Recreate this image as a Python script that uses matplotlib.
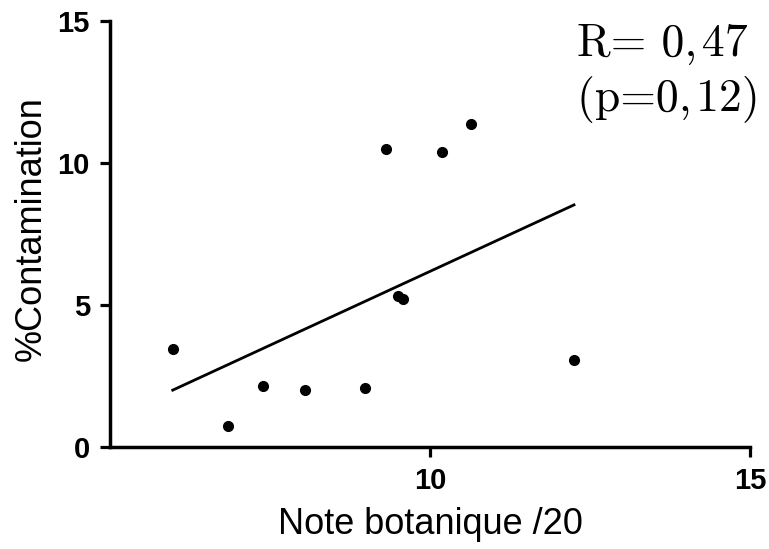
import numpy as np
import matplotlib
matplotlib.use("Agg")
import matplotlib.pyplot as plt

# Data
note_botanique = [5.98, 6.85, 7.39, 8.05, 8.98, 9.31, 9.50, 9.58, 10.18, 10.64, 12.25]
contamination = [3.44, 0.74, 2.16, 2.01, 2.09, 10.48, 5.32, 5.21, 10.40, 11.37, 3.06]
x_ticks = [10, 15]
y_ticks = [0, 5, 10, 15]
r_text = "R= 0,\u200a47"
p_text = "(p=0,\u200a12)"
xlabel = "Note botanique /20"
ylabel = "%Contamination"

plt.rcParams['font.family'] = ['Liberation Sans', 'DejaVu Sans']

W, H = 769, 549
fig = plt.figure(figsize=(W / 100, H / 100), dpi=100)
x0, x1, y0, y1 = 110, 750, 447, 21
ax = fig.add_axes([x0 / W, 1 - y0 / H, (x1 - x0) / W, (y0 - y1) / H])

ax.set_xlim(5, 15)
ax.set_ylim(0, 15)

xs = np.array(note_botanique)
ys = np.array(contamination)
ax.plot(xs, ys, 'o', color='black', markersize=7, clip_on=False, zorder=3)

slope, intercept = np.polyfit(xs, ys, 1)
fx = np.array([xs.min(), xs.max()])
ax.plot(fx, slope * fx + intercept, color='black', linewidth=2.0)

for s in ['top', 'right']:
    ax.spines[s].set_visible(False)
for s in ['left', 'bottom']:
    ax.spines[s].set_linewidth(2.5)

ax.set_xticks(x_ticks)
ax.set_yticks(y_ticks)
ax.tick_params(direction='out', length=7.5, width=2.3, labelsize=21, pad=7)
for lab in ax.get_xticklabels() + ax.get_yticklabels():
    lab.set_fontweight('bold')

ax.set_xlabel(xlabel, fontsize=26)
ax.set_ylabel(ylabel, fontsize=26)
ax.xaxis.set_label_coords(0.5, (y0 - 507) / (y0 - y1))
ax.yaxis.set_label_coords((49 - x0) / (x1 - x0), (y0 - 229) / (y0 - y1))

serif = ['cmr10', 'DejaVu Serif']
fig.text(577 / W, 1 - 56 / H, r_text, fontsize=33, ha='left', va='baseline',
         family=serif)
fig.text(577 / W, 1 - 111 / H, p_text, fontsize=33, ha='left', va='baseline',
         family=serif)

fig.savefig('out.png', dpi=100, facecolor='white')
